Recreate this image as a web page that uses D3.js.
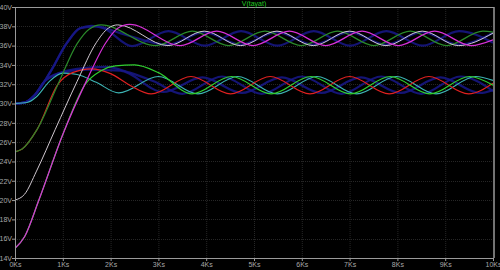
<!DOCTYPE html>
<html>
<head>
<meta charset="utf-8">
<script src="https://cdn.jsdelivr.net/npm/d3@7"></script>
<style>
  body { margin: 0; background: #000; }
  svg { display: block; }
  text { font-family: "Liberation Sans", Arial, sans-serif; }
</style>
</head>
<body>
<div id="chart"></div>
<script>
// axis ticks
const timeTicks = [0, 1, 2, 3, 4, 5, 6, 7, 8, 9, 10];
const voltTicks = [14, 16, 18, 20, 22, 24, 26, 28, 30, 32, 34, 36, 38, 40];
const traceTitle = "V(tayat)";

// traces: [time in Ks, volts]
// upper group (settles around 37V)
const blueUpper = [[0,30],[0.2,30.1],[0.4,30.8],[0.73,33.2],[1.09,36.3],[1.36,37.8],[1.6,38.05],[1.85,37.8],[2.45,35.95],
  [3.21,37.5],[3.97,36.0],[4.73,37.5],[5.49,36.0],[6.25,37.5],[7.01,36.0],[7.77,37.5],[8.53,36.0],[9.29,37.5],[10,36.3]];
const blueUpper2 = [[0,30],[0.2,30.1],[0.4,30.8],[0.73,33.2],[1.09,36.3],[1.36,37.8],[1.7,38.0],[2.2,37.3],[3.2,36.1],
  [3.96,37.4],[4.72,36.1],[5.48,37.4],[6.24,36.1],[7.0,37.4],[7.76,36.1],[8.52,37.4],[9.28,36.1],[10,37.3]];
const greenDark = [[0,25],[0.15,25.3],[0.46,27.3],[0.9,32],[1.3,36.2],[1.55,37.7],[1.8,38.15],
  [2.95,36.0],[3.71,37.5],[4.47,36.0],[5.23,37.5],[5.99,36.0],[6.75,37.5],[7.51,36.0],[8.27,37.5],[9.03,36.0],[9.79,37.5],[10,37.4]];
const grayTrace = [[0,20],[0.2,20.6],[0.45,23],[0.84,27.3],[1.3,32.3],[1.7,36.3],[1.95,37.8],[2.15,38.15],
  [3.2,36.0],[3.96,37.5],[4.72,36.0],[5.48,37.5],[6.24,36.0],[7.0,37.5],[7.76,36.0],[8.52,37.5],[9.28,36.0],[10,37.3]];
const magentaTrace = [[0,15],[0.2,16.2],[0.5,20],[1.0,26.8],[1.5,32.4],[1.9,36.3],[2.15,37.8],[2.4,38.2],
  [3.46,36.0],[4.22,37.5],[4.98,36.0],[5.74,37.5],[6.5,36.0],[7.26,37.5],[8.02,36.0],[8.78,37.5],[9.54,36.0],[10,36.6]];

// lower group (settles around 32V)
const cyanTrace = [[0,30],[0.25,30.1],[0.45,30.7],[0.72,32.3],[1.0,33.15],[1.3,33.0],[1.7,32.2],[2.17,31.1],
  [3.0,32.8],[3.83,31.0],[4.66,32.8],[5.49,31.0],[6.32,32.8],[7.15,31.0],[7.98,32.8],[8.81,31.0],[9.64,32.8],[10,32.4]];
const redTrace = [[0,25],[0.15,25.3],[0.46,27.3],[0.9,32],[1.2,33.2],[1.6,33.6],[2.0,33.1],[2.4,31.9],[2.85,31.0],
  [3.68,32.8],[4.51,31.0],[5.34,32.8],[6.17,31.0],[7.0,32.8],[7.83,31.0],[8.66,32.8],[9.49,31.0],[10,32.1]];
const blueLower = [[0,30],[0.2,30.1],[0.4,30.8],[0.62,32.3],[0.9,33.1],[1.3,33.6],[1.9,33.8],[2.4,33.2],[2.9,32.3],[3.5,31.0],
  [4.33,32.8],[5.16,31.0],[6.0,32.8],[6.83,31.0],[7.66,32.8],[8.5,31.0],[9.32,32.8],[10,31.3]];
const blueLower2 = [[0,30],[0.2,30.1],[0.4,30.8],[0.62,32.3],[0.9,33.1],[1.5,33.5],[2.2,33.4],[3.1,31.2],
  [3.92,32.7],[4.75,31.1],[5.58,32.7],[6.41,31.1],[7.24,32.7],[8.07,31.1],[8.9,32.7],[9.73,31.1],[10,31.4]];
const greenBright = [[0,15],[0.2,16.2],[0.5,20],[1.0,26.8],[1.47,32],[1.8,33.4],[2.1,33.9],[2.5,34.0],[3.0,33.2],[3.7,31.0],
  [4.53,32.8],[5.36,31.0],[6.19,32.8],[7.02,31.0],[7.85,32.8],[8.68,31.0],[9.51,32.8],[10,31.9]];

const traces = [
  { name: "blueUpper", data: blueUpper, color: "#181888", width: 2.2 },
  { name: "blueUpper2", data: blueUpper2, color: "#181888", width: 2.2 },
  { name: "blueLower", data: blueLower, color: "#181888", width: 2.2 },
  { name: "blueLower2", data: blueLower2, color: "#181888", width: 2.2 },
  { name: "cyan", data: cyanTrace, color: "#3cb4b4", width: 1.1 },
  { name: "red", data: redTrace, color: "#e02020", width: 1.2 },
  { name: "greenBright", data: greenBright, color: "#30d030", width: 1.2 },
  { name: "greenDark", data: greenDark, color: "#2a8a2a", width: 1.2 },
  { name: "gray", data: grayTrace, color: "#d0c8d0", width: 1.0 },
  { name: "magenta", data: magentaTrace, color: "#d830d8", width: 1.2 }
];

function showWaveforms()
{
    const width = 500, height = 270;
    const plot = { left: 15, right: 493, top: 7, bottom: 258 };

    const svg = d3.select("#chart")
        .append("svg")
        .attr("width", width)
        .attr("height", height)
        .style("background", "#000");

    const x = d3.scaleLinear().domain([0, 10]).range([plot.left, plot.right]);
    const y = d3.scaleLinear().domain([14, 40]).range([plot.bottom, plot.top]);

    // grid
    svg.append("g")
        .selectAll("line.v")
        .data(timeTicks.slice(1, -1))
        .join("line")
        .attr("x1", d => x(d) + 0.5).attr("x2", d => x(d) + 0.5)
        .attr("y1", plot.top).attr("y2", plot.bottom)
        .attr("stroke", "#262626")
        .attr("stroke-dasharray", "1,1");
    svg.append("g")
        .selectAll("line.h")
        .data(voltTicks.slice(1, -1))
        .join("line")
        .attr("y1", d => Math.round(y(d)) + 0.5).attr("y2", d => Math.round(y(d)) + 0.5)
        .attr("x1", plot.left).attr("x2", plot.right)
        .attr("stroke", "#262626")
        .attr("stroke-dasharray", "1,1");

    // clip traces to the plot box
    svg.append("clipPath").attr("id", "plotClip")
        .append("rect")
        .attr("x", plot.left).attr("y", plot.top)
        .attr("width", plot.right - plot.left).attr("height", plot.bottom - plot.top);

    const line = d3.line()
        .x(d => x(d[0]))
        .y(d => y(d[1]))
        .curve(d3.curveMonotoneX);

    svg.append("g")
        .attr("clip-path", "url(#plotClip)")
        .selectAll("path")
        .data(traces)
        .join("path")
        .attr("d", d => line(d.data))
        .attr("fill", "none")
        .attr("stroke", d => d.color)
        .attr("stroke-width", d => d.width)
        .attr("stroke-opacity", d => d.width > 2 ? 0.85 : 1);

    // axes
    const yAxis = svg.append("g")
        .attr("transform", `translate(${plot.left},0)`)
        .call(d3.axisLeft(y).tickValues(voltTicks).tickSize(3).tickPadding(0).tickFormat(d => d + "V"));
    const xAxis = svg.append("g")
        .attr("transform", `translate(0,${plot.bottom})`)
        .call(d3.axisBottom(x).tickValues(timeTicks).tickSize(3).tickPadding(1).tickFormat(d => d + "Ks"));

    [yAxis, xAxis].forEach(g => {
        g.select(".domain").attr("stroke", "#9a9a9a");
        g.selectAll(".tick line").attr("stroke", "#9a9a9a");
        g.selectAll("text")
            .attr("fill", "#a8a8a8")
            .style("font-size", "7px");
    });

    // frame top and right
    svg.append("line")
        .attr("x1", plot.left).attr("x2", plot.right + 1)
        .attr("y1", plot.top + 0.5).attr("y2", plot.top + 0.5)
        .attr("stroke", "#9a9a9a");
    svg.append("line")
        .attr("x1", plot.right + 1).attr("x2", plot.right + 1)
        .attr("y1", plot.top).attr("y2", plot.bottom)
        .attr("stroke", "#9a9a9a")
        .attr("stroke-width", 1.5);

    // trace title
    svg.append("text")
        .attr("x", (plot.left + plot.right) / 2)
        .attr("y", plot.top - 1)
        .attr("text-anchor", "middle")
        .attr("fill", "#20c820")
        .style("font-size", "7px")
        .text(traceTitle);
}

showWaveforms();
</script>
</body>
</html>
